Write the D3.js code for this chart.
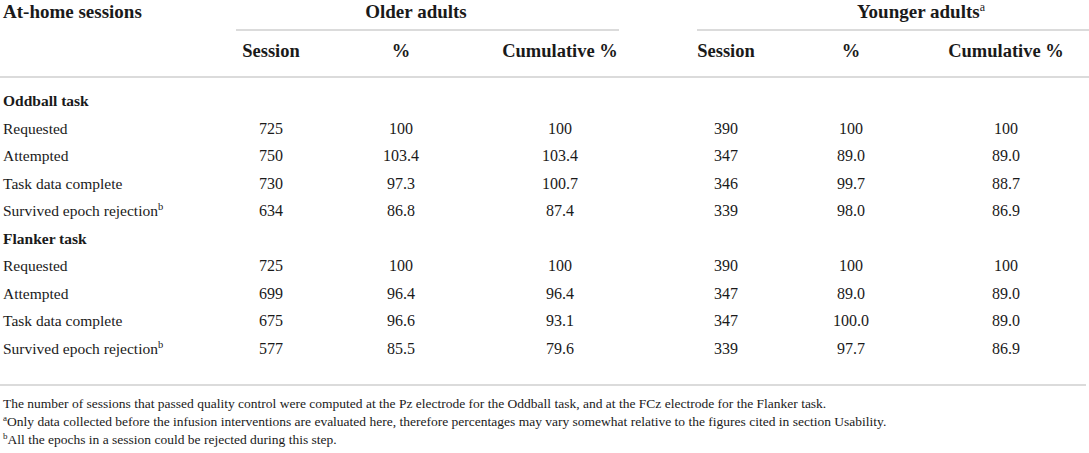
<!DOCTYPE html>
<html>
<head>
<meta charset="utf-8">
<script src="https://cdn.jsdelivr.net/npm/d3@7"></script>
<style>
  html, body { margin: 0; padding: 0; background: #fff; }
  svg { display: block; font-family: "Liberation Serif", "Times New Roman", serif; }
</style>
</head>
<body>
<svg id="chart" width="1089" height="453"></svg>
<script>
// ---- data ----
const groups = ["Older adults", "Younger adults"];
const columnHeads = ["Session", "%", "Cumulative %"];
const sections = ["Oddball task", "Flanker task"];
const rowLabels = ["Requested", "Attempted", "Task data complete", "Survived epoch rejection"];
const olderSession  = [["725", "750", "730", "634"], ["725", "699", "675", "577"]];
const olderPct      = [["100", "103.4", "97.3", "86.8"], ["100", "96.4", "96.6", "85.5"]];
const olderCum      = [["100", "103.4", "100.7", "87.4"], ["100", "96.4", "93.1", "79.6"]];
const youngerSession= [["390", "347", "346", "339"], ["390", "347", "347", "339"]];
const youngerPct    = [["100", "89.0", "99.7", "98.0"], ["100", "89.0", "100.0", "97.7"]];
const youngerCum    = [["100", "89.0", "88.7", "86.9"], ["100", "89.0", "89.0", "86.9"]];
const footnotes = [
  {sup: "", text: "The number of sessions that passed quality control were computed at the Pz electrode for the Oddball task, and at the FCz electrode for the Flanker task."},
  {sup: "a", text: "Only data collected before the infusion interventions are evaluated here, therefore percentages may vary somewhat relative to the figures cited in section Usability."},
  {sup: "b", text: "All the epochs in a session could be rejected during this step."}
];

// ---- layout ----
const W = 1089, H = 453;
const svg = d3.select("#chart");
const ink = "#1a1a1a", rule = "#cfcfcf";

const colKeys = ["oS", "oP", "oC", "yS", "yP", "yC"];
const x = d3.scaleOrdinal().domain(colKeys).range([271, 401, 560, 726, 851, 1006]);
const groupSpan = {"Older adults": [236, 619], "Younger adults": [697, 1089]};
const groupCenter = {"Older adults": 416, "Younger adults": 921};

// body rows: section header + 4 rows per section
const bodyRows = [];
sections.forEach((s, si) => {
  bodyRows.push({type: "section", label: s, key: "s" + si});
  rowLabels.forEach((r, ri) => {
    bodyRows.push({
      type: "row", label: r, key: si + "-" + ri, sup: ri === 3 ? "b" : "",
      vals: [olderSession[si][ri], olderPct[si][ri], olderCum[si][ri],
             youngerSession[si][ri], youngerPct[si][ri], youngerCum[si][ri]]
    });
  });
});
const y = d3.scalePoint().domain(bodyRows.map(d => d.key)).range([106, 353.5]);

// header
svg.append("text").attr("x", 3).attr("y", 18)
  .attr("font-size", 19).attr("font-weight", "bold").attr("fill", ink)
  .text("At-home sessions");

groups.forEach((g, gi) => {
  const t = svg.append("text").attr("x", groupCenter[g]).attr("y", 18)
    .attr("text-anchor", "middle").attr("font-size", 19).attr("font-weight", "bold").attr("fill", ink);
  t.append("tspan").text(g);
  if (gi === 1) t.append("tspan").attr("font-size", 12).attr("font-weight", "normal").attr("dy", -7).text("a");
  svg.append("line").attr("x1", groupSpan[g][0]).attr("x2", groupSpan[g][1])
    .attr("y1", 30).attr("y2", 30).attr("stroke", rule).attr("stroke-width", 1.5);
  columnHeads.forEach((c, ci) => {
    svg.append("text").attr("x", x(colKeys[gi * 3 + ci])).attr("y", 57)
      .attr("text-anchor", "middle").attr("font-size", 18.5).attr("font-weight", "bold").attr("fill", ink)
      .text(c);
  });
});

svg.append("line").attr("x1", 0).attr("x2", W).attr("y1", 77).attr("y2", 77)
  .attr("stroke", rule).attr("stroke-width", 1.5);

// body
const rows = svg.selectAll("g.row").data(bodyRows).join("g").attr("class", "row")
  .attr("transform", d => `translate(0,${y(d.key)})`);

rows.filter(d => d.type === "section").append("text")
  .attr("x", 3).attr("font-size", 15.5).attr("font-weight", "bold").attr("fill", ink)
  .text(d => d.label);

const lab = rows.filter(d => d.type === "row").append("text")
  .attr("x", 3).attr("font-size", 15.5).attr("fill", ink);
lab.append("tspan").text(d => d.label);
lab.filter(d => d.sup).append("tspan").attr("font-size", 10.5).attr("dy", -6).text(d => d.sup);

rows.filter(d => d.type === "row").selectAll("text.val")
  .data(d => d.vals.map((v, i) => ({v, k: colKeys[i]})))
  .join("text").attr("class", "val")
  .attr("x", d => x(d.k)).attr("text-anchor", "middle")
  .attr("font-size", 16).attr("fill", ink)
  .text(d => d.v);

svg.append("line").attr("x1", 0).attr("x2", 1086).attr("y1", 385).attr("y2", 385)
  .attr("stroke", rule).attr("stroke-width", 1.5);

// footnotes
const fy = d3.scalePoint().domain(footnotes.map((d, i) => i)).range([408, 444]);
footnotes.forEach((f, i) => {
  const t = svg.append("text").attr("x", 3).attr("y", fy(i)).attr("font-size", 13.5).attr("fill", ink);
  if (f.sup) t.append("tspan").attr("font-size", 9).attr("dy", -5).text(f.sup);
  t.append("tspan").attr("dy", f.sup ? 5 : 0).text(f.text);
});
</script>
</body>
</html>
